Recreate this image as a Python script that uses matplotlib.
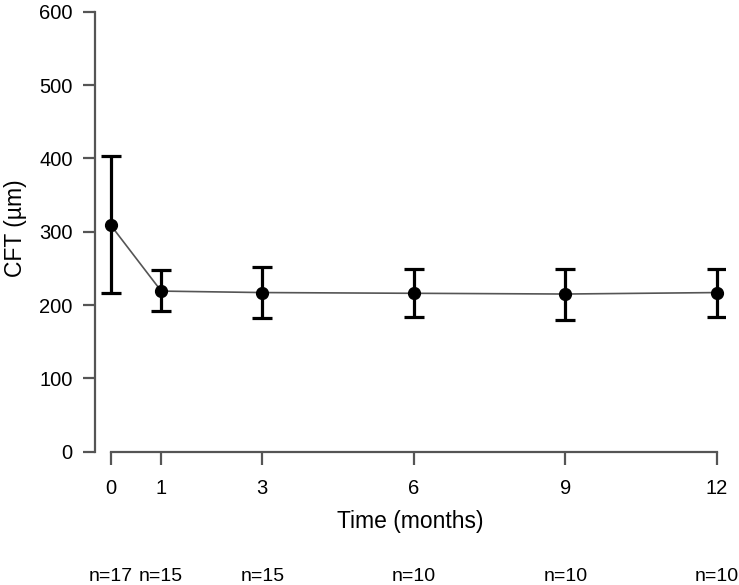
import matplotlib
matplotlib.use("Agg")
from matplotlib import pyplot as plt
from matplotlib.transforms import blended_transform_factory

plt.rcParams['font.family'] = ['Liberation Sans', 'DejaVu Sans']

# CFT over time (mean with error bars)
months = [0, 1, 3, 6, 9, 12]
cft_mean = [309, 219, 217, 216, 215, 217]
cft_upper = [403, 248, 252, 249, 249, 249]
cft_lower = [216, 192, 182, 183, 180, 184]
n_labels = ["n=17", "n=15", "n=15", "n=10", "n=10", "n=10"]
y_ticks = [0, 100, 200, 300, 400, 500, 600]

err_low = [m - lo for m, lo in zip(cft_mean, cft_lower)]
err_high = [hi - m for m, hi in zip(cft_mean, cft_upper)]

fig = plt.figure(figsize=(7.39, 5.85), dpi=100)
ax = fig.add_axes([0.1286, 0.2279, 0.8525, 0.7646])

ax.plot(months, cft_mean, color="#555555", lw=1.2, zorder=1)
ax.errorbar(months, cft_mean, yerr=[err_low, err_high], fmt="o", color="black",
            ms=8.5, elinewidth=2.3, capsize=7, capthick=2.3, zorder=2)

ax.set_xlim(-0.31, 12.16)
ax.set_ylim(0, 610)

for s in ["top", "right"]:
    ax.spines[s].set_visible(False)
ax.spines["left"].set_bounds(0, 600)
ax.spines["bottom"].set_bounds(0, 12)
for s in ["left", "bottom"]:
    ax.spines[s].set_color("#555555")
    ax.spines[s].set_linewidth(1.6)

ax.set_xticks(months)
ax.set_yticks(y_ticks)
ax.tick_params(axis="both", length=9, width=1.6, color="#555555", labelsize=14.5, pad=7)
ax.tick_params(axis="x", pad=11)

ax.set_xlabel("Time (months)", fontsize=16.5, labelpad=8)
ax.set_ylabel("CFT (µm)", fontsize=16.5, labelpad=9)

trans = blended_transform_factory(ax.transData, ax.transAxes)
for m, lab in zip(months, n_labels):
    ax.text(m, -0.28, lab, transform=trans, ha="center", va="center", fontsize=14)

fig.savefig("out.png", dpi=100)
